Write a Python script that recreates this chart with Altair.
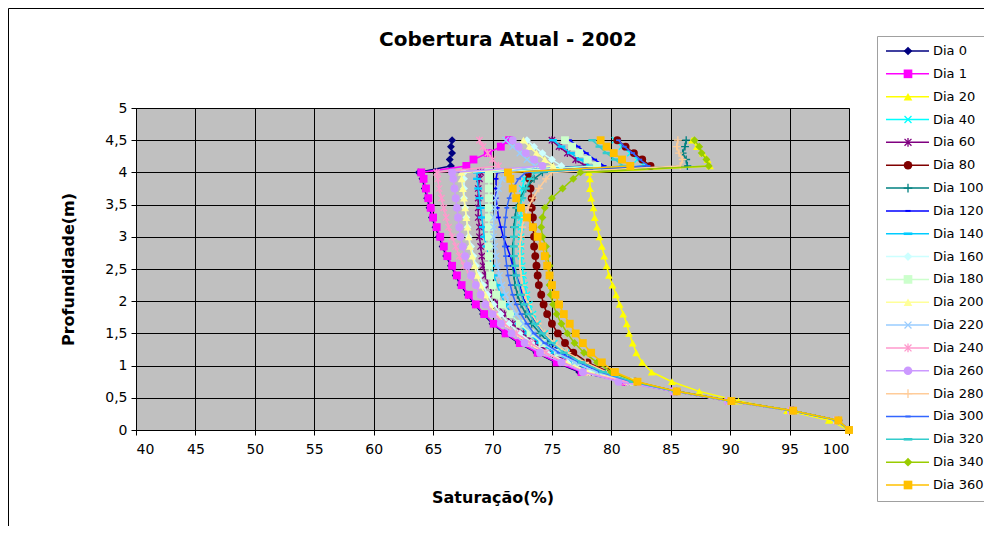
import altair as alt
import pandas as pd

# ---------------- data ----------------
DEPTHS = [0, 0.15, 0.3, 0.45, 0.6, 0.75, 0.9, 1.05, 1.2, 1.35, 1.5, 1.65, 1.8, 1.95,
          2.1, 2.25, 2.4, 2.55, 2.7, 2.85, 3.0, 3.15, 3.3, 3.45, 3.6, 3.75, 3.9, 4.0,
          4.1, 4.2, 4.3, 4.4, 4.5]

NAMES = ["Dia 0", "Dia 1", "Dia 20", "Dia 40", "Dia 60", "Dia 80", "Dia 100", "Dia 120",
         "Dia 140", "Dia 160", "Dia 180", "Dia 200", "Dia 220", "Dia 240", "Dia 260",
         "Dia 280", "Dia 300", "Dia 320", "Dia 340", "Dia 360"]

COLORS = ["#000080", "#ff00ff", "#ffff00", "#00ffff", "#800080", "#800000", "#008080",
          "#0000ff", "#00ccff", "#ccffff", "#ccffcc", "#ffff99", "#99ccff", "#ff99cc",
          "#cc99ff", "#ffcc99", "#3366ff", "#33cccc", "#99cc00", "#ffc000"]

X_PATH = "M-0.8,-0.8L0.8,0.8M-0.8,0.8L0.8,-0.8"
AST_PATH = "M-0.8,-0.8L0.8,0.8M-0.8,0.8L0.8,-0.8M0,-1L0,1"
PLUS_PATH = "M-1,0L1,0M0,-1L0,1"
DASH_S = "M-0.6,-0.22L0.6,-0.22L0.6,0.22L-0.6,0.22Z"
DASH_L = "M-1,-0.3L1,-0.3L1,0.3L-1,0.3Z"

SHAPES = ["diamond", "square", "triangle-up", X_PATH, AST_PATH, "circle", PLUS_PATH,
          DASH_S, DASH_L, "diamond", "square", "triangle-up", X_PATH, AST_PATH,
          "circle", PLUS_PATH, DASH_S, DASH_L, "diamond", "square"]
FILLED = [True, True, True, False, False, True, False, True, True, True, True, True,
          False, False, True, False, True, True, True, True]

dia0 = [100, 99.0, 95.1, 89.8, 85.2, 81.1, 77.3, 75.3, 73.7, 72.2, 71.0, 70.0, 69.2, 68.5, 67.9, 67.3, 66.9, 66.5, 66.1, 65.8, 65.5, 65.2, 64.9, 64.7, 64.5, 64.3, 64.1, 63.8, 66.5, 66.4, 66.6, 66.5, 66.6]
dia1 = [100, 99.0, 95.2, 89.9, 85.3, 81.2, 77.5, 75.4, 73.8, 72.3, 71.1, 70.1, 69.3, 68.6, 68.0, 67.4, 67.0, 66.6, 66.2, 65.9, 65.6, 65.3, 65.0, 64.8, 64.6, 64.4, 64.2, 64.0, 67.8, 68.4, 69.6, 70.7, 71.4]
dia20 = [100, 98.3, 94.8, 90.7, 87.4, 85.1, 83.4, 82.6, 82.1, 81.8, 81.5, 81.3, 81.0, 80.7, 80.4, 80.1, 79.8, 79.6, 79.4, 79.2, 79.0, 78.8, 78.6, 78.5, 78.3, 78.2, 78.2, 78.1, 88.3, 88.1, 87.7, 87.2, 86.8]
dia40 = [100, 99.0, 95.3, 90.0, 85.4, 81.8, 79.3, 77.6, 76.2, 75.2, 74.4, 73.8, 73.4, 73.1, 72.9, 72.7, 72.6, 72.5, 72.4, 72.4, 72.4, 72.4, 72.4, 72.4, 72.4, 72.5, 72.7, 73.0, 82.8, 82.2, 81.6, 80.9, 80.3]
dia60 = [100, 99.0, 95.2, 89.9, 85.3, 81.5, 78.3, 76.5, 74.9, 73.6, 72.6, 71.7, 71.0, 70.4, 70.0, 69.7, 69.4, 69.2, 69.1, 69.0, 68.9, 68.9, 68.8, 68.8, 68.8, 68.8, 68.9, 69.0, 77.8, 77.0, 76.3, 75.6, 75.0]
dia80 = [100, 99.1, 95.3, 90.1, 85.5, 82.0, 79.8, 78.0, 76.8, 76.1, 75.5, 75.0, 74.6, 74.3, 74.1, 73.9, 73.8, 73.7, 73.6, 73.5, 73.5, 73.4, 73.4, 73.3, 73.3, 73.2, 73.1, 73.0, 83.3, 82.6, 81.9, 81.2, 80.5]
dia100 = [100, 99.0, 95.3, 90.0, 85.4, 81.9, 79.5, 77.5, 76.0, 74.8, 74.0, 73.3, 72.8, 72.4, 72.1, 71.9, 71.8, 71.7, 71.7, 71.7, 71.8, 71.8, 71.9, 72.0, 72.3, 72.8, 73.5, 74.2, 86.4, 86.3, 86.0, 86.2, 86.3]
dia120 = [100, 99.0, 95.2, 90.0, 85.4, 81.7, 79.0, 77.2, 75.8, 74.9, 74.3, 73.7, 73.2, 72.8, 72.5, 72.3, 72.0, 71.7, 71.5, 71.2, 70.9, 70.7, 70.5, 70.4, 70.3, 70.3, 70.3, 70.4, 79.4, 78.6, 77.9, 77.2, 76.5]
dia140 = [100, 99.0, 95.2, 89.9, 85.3, 81.6, 78.5, 76.8, 75.2, 74.0, 73.0, 72.2, 71.6, 71.1, 70.7, 70.4, 70.1, 69.9, 69.7, 69.5, 69.3, 69.2, 69.1, 69.0, 68.9, 68.8, 68.7, 68.7, 78.2, 77.4, 76.6, 75.8, 75.1]
dia160 = [100, 99.0, 95.2, 89.9, 85.3, 81.4, 78.2, 76.3, 74.6, 73.3, 72.3, 71.4, 70.7, 70.1, 69.6, 69.2, 68.9, 68.6, 68.4, 68.2, 68.0, 67.9, 67.8, 67.7, 67.6, 67.6, 67.6, 67.6, 75.8, 75.0, 74.2, 73.5, 72.9]
dia180 = [100, 99.0, 95.2, 90.0, 85.4, 81.6, 78.7, 77.0, 75.5, 74.2, 73.2, 72.3, 71.5, 70.8, 70.3, 70.0, 69.8, 69.7, 69.7, 69.7, 69.7, 69.7, 69.7, 69.7, 69.7, 69.7, 69.7, 69.7, 78.8, 78.0, 77.3, 76.7, 76.1]
dia200 = [100, 99.0, 95.2, 89.9, 85.3, 81.4, 78.0, 76.2, 74.4, 73.0, 71.9, 71.0, 70.3, 69.8, 69.4, 69.0, 68.7, 68.5, 68.3, 68.1, 68.0, 67.9, 67.8, 67.7, 67.6, 67.5, 67.4, 67.4, 75.1, 74.4, 73.7, 73.1, 72.6]
dia220 = [100, 99.0, 95.2, 90.0, 85.4, 81.6, 78.8, 76.9, 75.4, 74.3, 73.4, 72.6, 72.0, 71.5, 71.1, 70.8, 70.6, 70.4, 70.3, 70.2, 70.1, 70.1, 70.1, 70.2, 70.3, 70.5, 70.8, 71.2, 73.6, 72.9, 72.3, 71.7, 71.1]
dia240 = [100, 99.0, 95.1, 89.8, 85.2, 81.2, 77.7, 76.0, 74.5, 73.2, 72.0, 71.0, 70.2, 69.5, 69.0, 68.6, 68.1, 67.6, 67.2, 66.9, 66.6, 66.3, 66.1, 65.9, 65.7, 65.5, 65.4, 65.3, 70.5, 70.0, 69.6, 69.2, 68.9]
dia260 = [100, 99.0, 95.1, 89.8, 85.2, 80.6, 77.6, 75.8, 74.0, 72.7, 71.6, 70.7, 70.0, 69.4, 69.0, 68.6, 68.2, 67.9, 67.7, 67.5, 67.3, 67.2, 67.1, 67.0, 66.9, 66.8, 66.7, 66.6, 74.2, 73.5, 72.8, 72.2, 71.7]
dia280 = [100, 99.0, 95.3, 90.0, 85.4, 81.9, 79.6, 77.8, 76.3, 75.2, 74.4, 73.8, 73.3, 73.0, 72.7, 72.5, 72.4, 72.3, 72.3, 72.3, 72.4, 72.5, 72.7, 73.0, 73.4, 73.9, 74.5, 75.0, 85.8, 86.0, 85.7, 85.5, 85.6]
dia300 = [100, 99.0, 95.2, 90.0, 85.4, 81.7, 79.1, 77.3, 75.6, 74.4, 73.5, 72.9, 72.4, 72.0, 71.7, 71.5, 71.3, 71.2, 71.1, 71.0, 71.0, 71.0, 71.1, 71.2, 71.4, 71.7, 72.2, 72.8, 83.1, 82.4, 81.8, 81.1, 80.6]
dia320 = [100, 99.0, 95.2, 90.0, 85.4, 81.8, 79.3, 77.5, 76.0, 75.0, 74.2, 73.6, 73.1, 72.7, 72.4, 72.2, 72.0, 71.9, 71.8, 71.8, 71.8, 71.9, 72.0, 72.2, 72.5, 72.8, 73.2, 73.6, 81.0, 80.3, 79.6, 79.0, 78.4]
dia340 = [100, 99.1, 95.3, 90.1, 85.5, 82.1, 80.0, 78.8, 77.7, 76.9, 76.3, 75.8, 75.4, 75.1, 74.9, 74.8, 74.8, 74.8, 74.6, 74.5, 74.2, 74.1, 74.2, 74.4, 75.0, 75.9, 76.8, 77.4, 88.2, 88.0, 87.6, 87.4, 87.0]
dia360 = [100, 99.1, 95.3, 90.1, 85.5, 82.2, 80.3, 79.2, 78.3, 77.6, 77.0, 76.5, 76.0, 75.6, 75.3, 75.0, 74.8, 74.6, 74.4, 74.2, 73.8, 73.4, 72.9, 72.4, 72.0, 71.7, 71.5, 71.3, 81.6, 80.9, 80.2, 79.6, 79.1]

SERIES_VALUES = [dia0, dia1, dia20, dia40, dia60, dia80, dia100, dia120, dia140, dia160,
                 dia180, dia200, dia220, dia240, dia260, dia280, dia300, dia320, dia340, dia360]

X_TICKS = [40, 45, 50, 55, 60, 65, 70, 75, 80, 85, 90, 95, 100]
Y_TICKS = [0, 0.5, 1, 1.5, 2, 2.5, 3, 3.5, 4, 4.5, 5]

TITLE = "Cobertura Atual - 2002"
X_TITLE = "Saturação(%)"
Y_TITLE = "Profundidade(m)"

# ---------------- build table ----------------
rows = []
for name, vals in zip(NAMES, SERIES_VALUES):
    assert len(vals) == len(DEPTHS), name
    for i, (d, v) in enumerate(zip(DEPTHS, vals)):
        rows.append({"serie": name, "prof": d, "sat": v, "ordem": i})
df = pd.DataFrame(rows)

FONT = "DejaVu Sans"
W, H = 713, 322

color = alt.Color("serie:N", scale=alt.Scale(domain=NAMES, range=COLORS), legend=None)
shape = alt.Shape("serie:N", scale=alt.Scale(domain=NAMES, range=SHAPES), legend=None)
xenc = alt.X("sat:Q", scale=alt.Scale(domain=[40, 100], nice=False, zero=False),
             axis=alt.Axis(values=X_TICKS, title=X_TITLE, labelPadding=7, titlePadding=33))
yenc = alt.Y("prof:Q", scale=alt.Scale(domain=[0, 5], nice=False, zero=False),
             axis=alt.Axis(values=Y_TICKS, format=".1~f",
                           labelExpr="replace(datum.label, '.', ',')",
                           title=Y_TITLE, labelPadding=4, titlePadding=28))

base = alt.Chart(df)
layers = []
for name, filled in zip(NAMES, FILLED):
    sub = base.transform_filter(alt.datum.serie == name)
    layers.append(sub.mark_line(strokeWidth=1.5).encode(
        x=xenc, y=yenc, color=color, order=alt.Order("ordem:Q")))
    layers.append(sub.mark_point(filled=filled, size=62, strokeWidth=1.3, opacity=1).encode(
        x=xenc, y=yenc, color=color, shape=shape))
main = alt.layer(*layers)

# ---------------- legend (drawn from the series list) ----------------
LEG_X0 = 741  # legend box left edge, relative to the plot origin
leg_df = pd.DataFrame({"serie": NAMES, "filled": FILLED})
leg_y = alt.Y("serie:N", scale=alt.Scale(type="point", domain=NAMES, range=[-57, 377], padding=0),
              axis=None)
leg_line = alt.Chart(leg_df).mark_rule(strokeWidth=1.5).encode(
    x=alt.value(LEG_X0 + 9), x2=alt.value(LEG_X0 + 52), y=leg_y, color=color)
leg_pf = alt.Chart(leg_df).transform_filter("datum.filled").mark_point(
    filled=True, size=75, opacity=1).encode(x=alt.value(LEG_X0 + 31), y=leg_y, color=color, shape=shape)
leg_po = alt.Chart(leg_df).transform_filter("!datum.filled").mark_point(
    filled=False, size=75, strokeWidth=1.3, opacity=1).encode(x=alt.value(LEG_X0 + 31), y=leg_y,
                                                            color=color, shape=shape)
leg_txt = alt.Chart(leg_df).mark_text(align="left", baseline="middle", font=FONT, fontSize=13,
                                      color="black").encode(x=alt.value(LEG_X0 + 56), y=leg_y,
                                                            text="serie:N")
legend = alt.layer(leg_line, leg_pf, leg_po, leg_txt)

# ---------------- decorations ----------------
one = pd.DataFrame({"k": [0]})
frame_left = alt.Chart(one).mark_rule(color="black", strokeWidth=1).encode(
    x=alt.value(-127.5), y=alt.value(-99.5), y2=alt.value(420))
frame_top = alt.Chart(one).mark_rule(color="black", strokeWidth=1).encode(
    x=alt.value(-127.5), x2=alt.value(870), y=alt.value(-99.5))
legend_box = alt.Chart(one).mark_rect(fill="white", stroke="#a0a0a0", strokeWidth=1).encode(
    x=alt.value(LEG_X0 + 0.5), x2=alt.value(880), y=alt.value(-71.5), y2=alt.value(393.5))
title = alt.Chart(pd.DataFrame({"t": [TITLE]})).mark_text(
    font=FONT, fontSize=20, fontWeight="bold", align="center", baseline="middle", color="black"
).encode(x=alt.value(372), y=alt.value(-68), text="t:N")

chart = alt.layer(frame_left, frame_top, legend_box, title, main, legend).resolve_scale(
    y="independent"
).properties(
    width=W, height=H,
    autosize=alt.AutoSizeParams(type="none"),
    padding={"left": 128, "top": 100, "right": 135, "bottom": 96},
    background="white",
).configure_view(
    fill="#c0c0c0", stroke="#808080"
).configure_axis(
    domainColor="black", domainWidth=1, tickColor="black", tickSize=5,
    gridColor="black", gridWidth=1, gridOpacity=1,
    labelFont=FONT, labelFontSize=14, labelColor="black",
    titleFont=FONT, titleFontSize=16, titleFontWeight="bold", titleColor="black",
)

chart.save("out.html", embed_options={"renderer": "svg", "actions": False})
